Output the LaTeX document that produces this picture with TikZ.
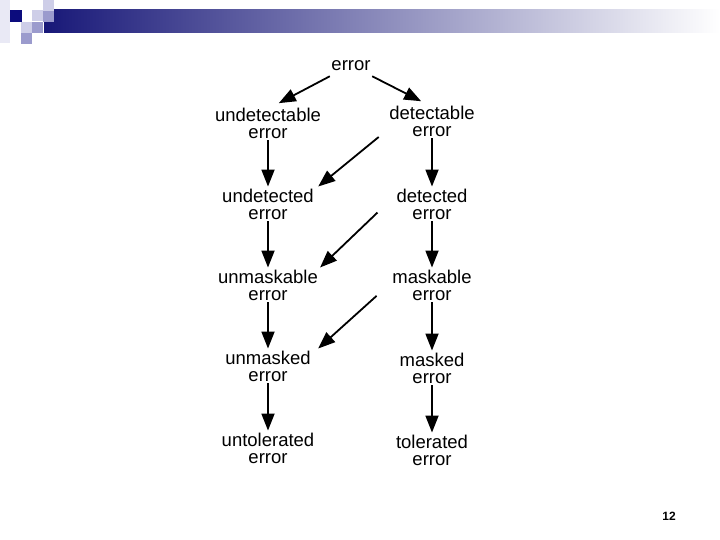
\documentclass[tikz,border=0pt]{standalone}
\usepackage{fontspec}
\setmainfont{Liberation Sans}
\usetikzlibrary{arrows.meta}

\definecolor{decodark}{RGB}{12,12,125}
\definecolor{decolight}{RGB}{206,206,232}
\definecolor{decomid}{RGB}{155,155,205}
\definecolor{barleft}{RGB}{24,24,120}
\definecolor{barmid}{RGB}{168,168,192}

\begin{document}
\begin{tikzpicture}[x=1pt,y=-1pt,
    lbl/.style={align=center, inner sep=2pt, minimum width=100pt,
        font=\fontsize{18.5}{17}\selectfont},
    arr/.style={-{Triangle[length=17pt,width=13pt]}, line width=1.8pt}]
    \useasboundingbox (0,0) rectangle (720,540);

    % Decorazione in alto
    \shade[left color=barleft, middle color=barmid, right color=white] (44,10) rectangle (720,33);
    \fill[decolight!45] (0,0) rectangle (10,43);
    \fill[decodark] (10,10) rectangle (22,22);
    \foreach \x/\y in {32/10, 43/0, 21/22}
        \fill[decolight] (\x,\y) rectangle ++(11,11);
    \foreach \x/\y in {43/11, 32/22, 21/33}
        \fill[decomid] (\x,\y) rectangle ++(11,11);

    % Nodi
    \node[lbl] (err) at (351,66) {error};
    \node[lbl] (undetable) at (268,123) {undetectable\\error};
    \node[lbl] (detable) at (432,121) {detectable\\error};
    \node[lbl] (undeted) at (268,204) {undetected\\error};
    \node[lbl] (deted) at (432,204) {detected\\error};
    \node[lbl] (unmkable) at (268,285) {unmaskable\\error};
    \node[lbl] (mkable) at (432,285) {maskable\\error};
    \node[lbl] (unmked) at (268,366) {unmasked\\error};
    \node[lbl] (mked) at (432,368) {masked\\error};
    \node[lbl] (untol) at (268,448) {untolerated\\error};
    \node[lbl] (tol) at (432,450) {tolerated\\error};
    \node[font=\bfseries\fontsize{12}{12}\selectfont] (pagenum) at (669,516) {12};

    % Frecce dall'errore
    \draw[arr, shorten >=5pt] ([xshift=29pt,yshift=-3pt]err.south west) -- (undetable.70);
    \draw[arr, shorten >=5pt] ([xshift=-29pt,yshift=-3pt]err.south east) -- (detable.110);

    % Frecce verticali
    \foreach \a/\b in {undetable/undeted, undeted/unmkable, unmkable/unmked, unmked/untol,
                       detable/deted, deted/mkable, mkable/mked, mked/tol}
        \draw[arr] (\a.south) -- (\b.north);

    % Frecce diagonali
    \draw[arr, shorten <=4pt] (detable.195) -- (undeted.north east);
    \draw[arr, shorten <=6pt] (deted.185) -- (unmkable.north east);
    \draw[arr, shorten <=7pt] (mkable.187) -- (unmked.north east);
\end{tikzpicture}
\end{document}
